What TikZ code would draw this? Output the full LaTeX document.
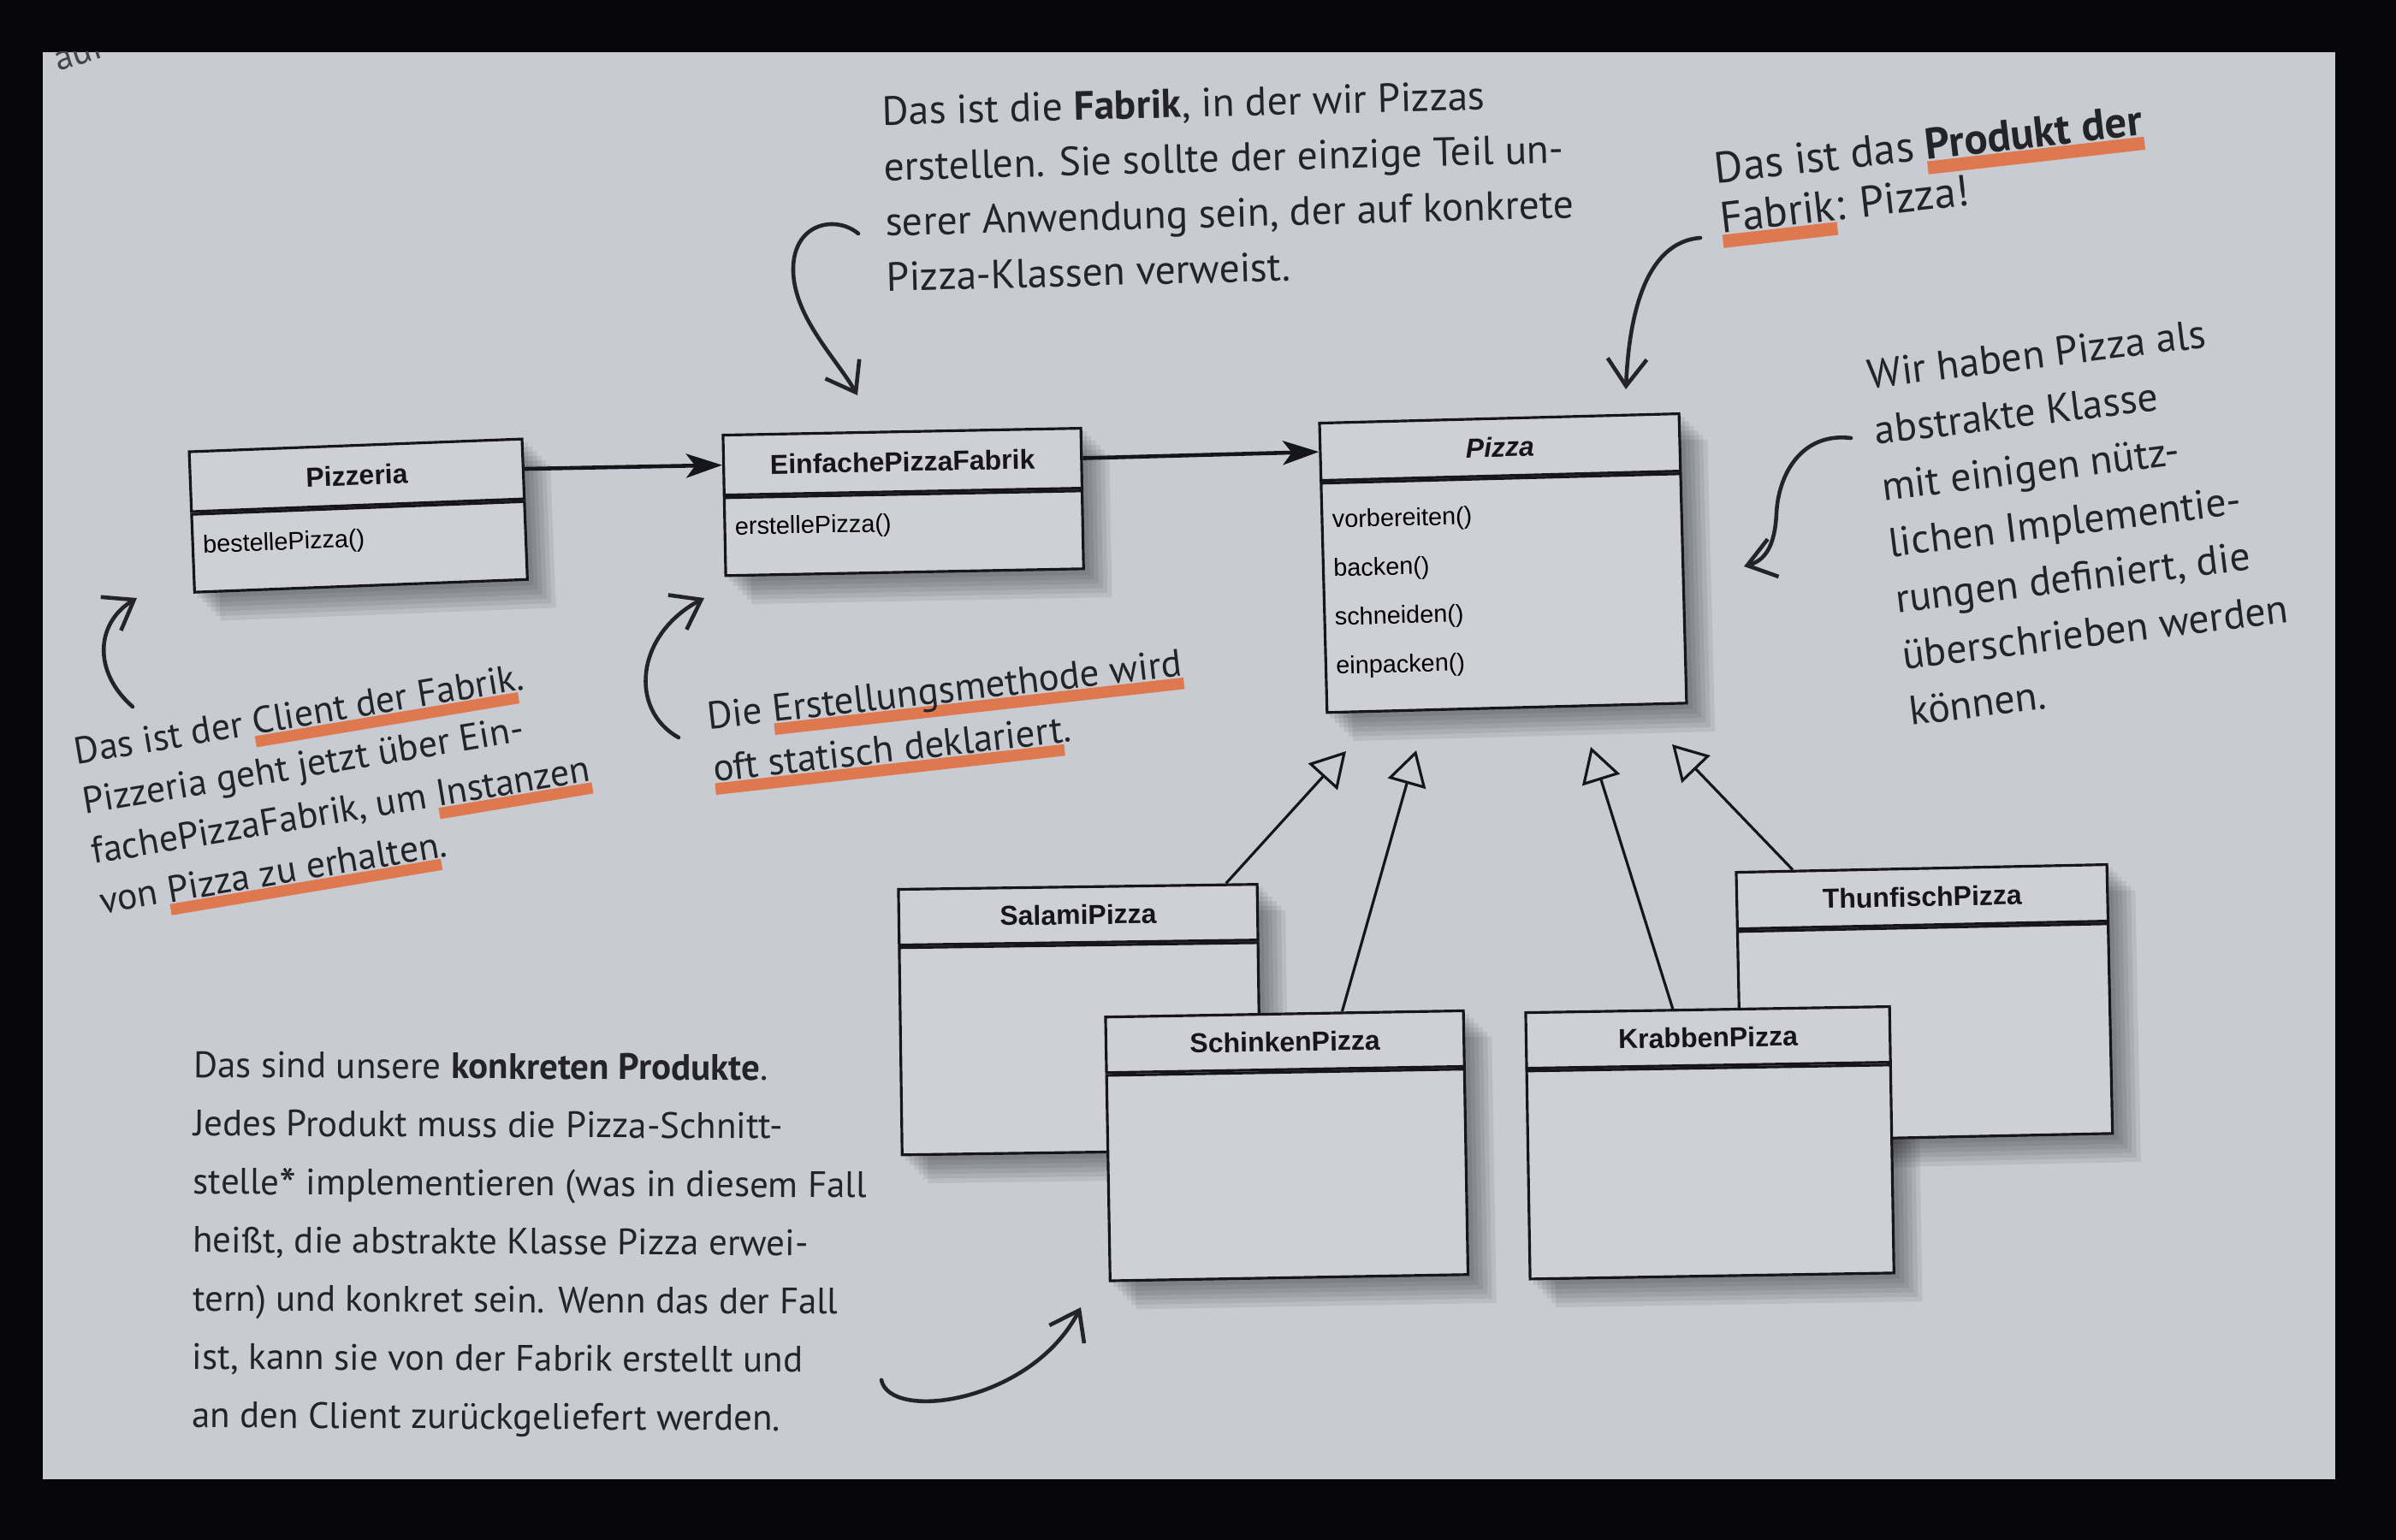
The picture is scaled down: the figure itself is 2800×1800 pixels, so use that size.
\documentclass[tikz,border=0pt]{standalone}
\usepackage{fontspec}
\setmainfont{PT Sans}
\newfontfamily\umlfont{Liberation Sans}
\usetikzlibrary{arrows.meta,calc}
\pgfdeclarelayer{bg}
\pgfsetlayers{bg,main}
\definecolor{frame}{RGB}{6,6,10}
\definecolor{paper}{RGB}{200,203,210}
\definecolor{boxfill}{RGB}{206,208,214}
\definecolor{ink}{RGB}{36,36,40}
\definecolor{umlink}{RGB}{22,22,26}
\definecolor{hlorange}{RGB}{222,120,78}
\newlength\hlwd
\newcommand\hl[1]{\settowidth{\hlwd}{#1}\leavevmode\rlap{\textcolor{hlorange}{\rule[-0.34em]{\hlwd}{0.3em}}}#1}
\newcommand\mbody[5]{\parbox[t][#2][t]{#1}{\umlfont\fontsize{8.2pt}{#3}\selectfont\raggedright\leftskip=3.4pt\rule{0pt}{#4}#5}}
\newcommand\bigast{\raisebox{-0.22em}{\fontsize{16pt}{16pt}\selectfont *}}
\newcommand\boxshadow[2]{%
  \begin{pgfonlayer}{bg}
  \foreach \s in {1.5pt,3pt,4.5pt,6pt,7.5pt,9pt}{%
    \fill[black, opacity=0.07, transform canvas={shift={(\s,-\s)}}]
      (#1.north west) -- (#1.north east) -- (#2.south east) -- (#2.south west) -- cycle;}
  \end{pgfonlayer}}
\tikzset{
  umlhead/.style={draw=umlink, line width=0.9pt, fill=boxfill, inner sep=0pt, anchor=north,
    font=\umlfont\bfseries\fontsize{9.1pt}{11pt}\selectfont, text=umlink},
  umlbody/.style={draw=umlink, line width=0.9pt, fill=boxfill, inner sep=0pt, anchor=north},
  note/.style={inner sep=0pt, align=left, text=ink, anchor=north west},
  assoc/.style={draw=umlink, line width=1.3pt, -{Stealth[length=12pt,width=8pt,inset=3pt]}},
  inherit/.style={draw=umlink, line width=0.9pt, -{Triangle[open,length=11.5pt,width=13pt]}},
  hand/.style={draw=ink, line width=1.3pt, line cap=round, -{Straight Barb[length=9pt,width=13pt]}}
}
\begin{document}
\begin{tikzpicture}[x=0.01cm, y=-0.01cm]
\useasboundingbox (0,0) rectangle (2800,1800);
\begin{pgfonlayer}{bg}
\fill[frame] (0,0) rectangle (2800,1800);
\fill[paper] (50,61) rectangle (2729,1729);
\end{pgfonlayer}

% cut-off text at the top left corner
\begin{scope}
\clip (50,61) rectangle (400,200);
\node[anchor=base west, rotate=18, inner sep=0pt, text=ink!85, font=\fontsize{12pt}{14pt}\selectfont] (aufd) at (68,84) {auf der};
\end{scope}

% ---------- UML classes ----------
\node[umlhead, rotate=2.2, minimum width=3.89cm, minimum height=0.70cm] (pzh) at (415.5,519) {Pizzeria};
\node[umlbody, rotate=2.2, minimum width=3.89cm, minimum height=0.91cm] (pzb) at (pzh.south)
  {\mbody{3.89cm}{0.90cm}{0.57cm}{0.45cm}{bestellePizza()}};
\boxshadow{pzh}{pzb}

\node[umlhead, rotate=1.1, minimum width=4.18cm, minimum height=0.70cm] (fabh) at (1054,503) {EinfachePizzaFabrik};
\node[umlbody, rotate=1.1, minimum width=4.18cm, minimum height=0.91cm] (fabb) at (fabh.south)
  {\mbody{4.18cm}{0.90cm}{0.57cm}{0.43cm}{erstellePizza()}};
\boxshadow{fabh}{fabb}

\node[umlhead, rotate=1.5, minimum width=4.20cm, minimum height=0.67cm] (pih) at (1752,487.5) {\itshape Pizza};
\node[umlbody, rotate=1.5, minimum width=4.20cm, minimum height=2.68cm] (pib) at (pih.south)
  {\mbody{4.20cm}{2.67cm}{0.57cm}{0.52cm}{vorbereiten()\\backen()\\schneiden()\\einpacken()}};
\boxshadow{pih}{pib}

\node[umlhead, rotate=0.8, minimum width=4.19cm, minimum height=0.65cm] (salh) at (1259.5,1035) {SalamiPizza};
\node[umlbody, rotate=0.8, minimum width=4.19cm, minimum height=2.42cm] (salb) at (salh.south) {};
\boxshadow{salh}{salb}

\node[umlhead, rotate=1.0, minimum width=4.18cm, minimum height=0.65cm] (schh) at (1501,1183.5) {SchinkenPizza};
\node[umlbody, rotate=1.0, minimum width=4.18cm, minimum height=2.40cm] (schb) at (schh.south) {};
\boxshadow{schh}{schb}

\node[umlhead, rotate=1.2, minimum width=4.33cm, minimum height=0.66cm] (thuh) at (2245.5,1013.5) {ThunfischPizza};
\node[umlbody, rotate=1.2, minimum width=4.33cm, minimum height=2.45cm] (thub) at (thuh.south) {};
\boxshadow{thuh}{thub}

\node[umlhead, rotate=0.95, minimum width=4.25cm, minimum height=0.65cm] (krah) at (1995.5,1178.5) {KrabbenPizza};
\node[umlbody, rotate=0.95, minimum width=4.25cm, minimum height=2.43cm] (krab) at (krah.south) {};
\boxshadow{krah}{krab}

% ---------- UML connectors ----------
\draw[assoc] (pzh.east) -- (fabh.west);
\draw[assoc] (fabh.east) -- (pih.west);

\coordinate (t1) at (1573,878);
\coordinate (t2) at (1655,877);
\coordinate (t3) at (1859,873);
\coordinate (t4) at (1954,870);
\draw[inherit] ($(salh.north west)!0.91!(salh.north east)$) -- (t1);
\draw[inherit] ($(schh.north west)!0.66!(schh.north east)$) -- (t2);
\draw[inherit] ($(krah.north west)!0.405!(krah.north east)$) -- (t3);
\draw[inherit] ($(thuh.north west)!0.155!(thuh.north east)$) -- (t4);

% ---------- annotations ----------
\node[note, rotate=1.5, font=\fontsize{13.5pt}{18.4pt}\selectfont] (n1) at (1030,112)
  {Das ist die \textbf{Fabrik}, in der wir Pizzas\\
   erstellen. Sie sollte der einzige Teil un-\\
   serer Anwendung sein, der auf konkrete\\
   Pizza-Klassen verweist.};

\node[note, rotate=6.5, font=\fontsize{14.5pt}{16.6pt}\selectfont] (n2) at (2001,178)
  {Das ist das \hl{\textbf{Produkt der}}\\
   \hl{Fabrik}: Pizza!};

\node[note, rotate=7, font=\fontsize{13.6pt}{18.8pt}\selectfont] (n3) at (2180,420)
  {Wir haben Pizza als\\
   abstrakte Klasse\\
   mit einigen nütz-\\
   lichen Implementie-\\
   rungen definiert, die\\
   überschrieben werden\\
   können.};

\node[note, rotate=9.5, font=\fontsize{12.5pt}{16.8pt}\selectfont] (n4) at (84,862)
  {Das ist der \hl{Client der Fabrik}.\\
   Pizzeria geht jetzt über Ein-\\
   fachePizzaFabrik, um \hl{Instanzen}\\
   von \hl{Pizza zu erhalten}.};

\node[note, rotate=6.4, font=\fontsize{12.8pt}{17.6pt}\selectfont] (n5) at (824,820)
  {Die \hl{Erstellungsmethode wird}\\
   \hl{oft statisch deklariert}.};

\node[note, rotate=-0.3, font=\fontsize{12.2pt}{19.4pt}\selectfont] (n6) at (226,1228)
  {Das sind unsere \textbf{konkreten Produkte}.\\
   Jedes Produkt muss die Pizza-Schnitt-\\
   stelle\bigast{} implementieren (was in diesem Fall\\
   heißt, die abstrakte Klasse Pizza erwei-\\
   tern) und konkret sein. Wenn das der Fall\\
   ist, kann sie von der Fabrik erstellt und\\
   an den Client zurückgeliefert werden.};

% ---------- hand-drawn arrows ----------
\coordinate (a1s) at (1003,273);  \coordinate (a1e) at (1002,462);
\coordinate (a2s) at (1987,278);  \coordinate (a2e) at (1900,455);
\coordinate (a3s) at (2163,512);  \coordinate (a3e) at (2038,662);
\coordinate (a4s) at (155,826);   \coordinate (a4e) at (160,699);
\coordinate (a5s) at (793,862);   \coordinate (a5e) at (823,699);
\coordinate (a6s) at (1030,1613); \coordinate (a6e) at (1263,1528);
\draw[hand] (a1s) .. controls (975,250) and (925,262) .. (927,318) .. controls (929,372) and (978,420) .. (a1e);
\draw[hand] (a2s) .. controls (1935,282) and (1905,340) .. (a2e);
\draw[hand] (a3s) .. controls (2105,505) and (2078,555) .. (2076,600) .. controls (2074,640) and (2062,655) .. (a3e);
\draw[hand] (a4s) .. controls (108,785) and (112,728) .. (a4e);
\draw[hand] (a5s) .. controls (735,830) and (742,742) .. (a5e);
\draw[hand] (a6s) .. controls (1040,1662) and (1205,1640) .. (a6e);
\end{tikzpicture}
\end{document}
